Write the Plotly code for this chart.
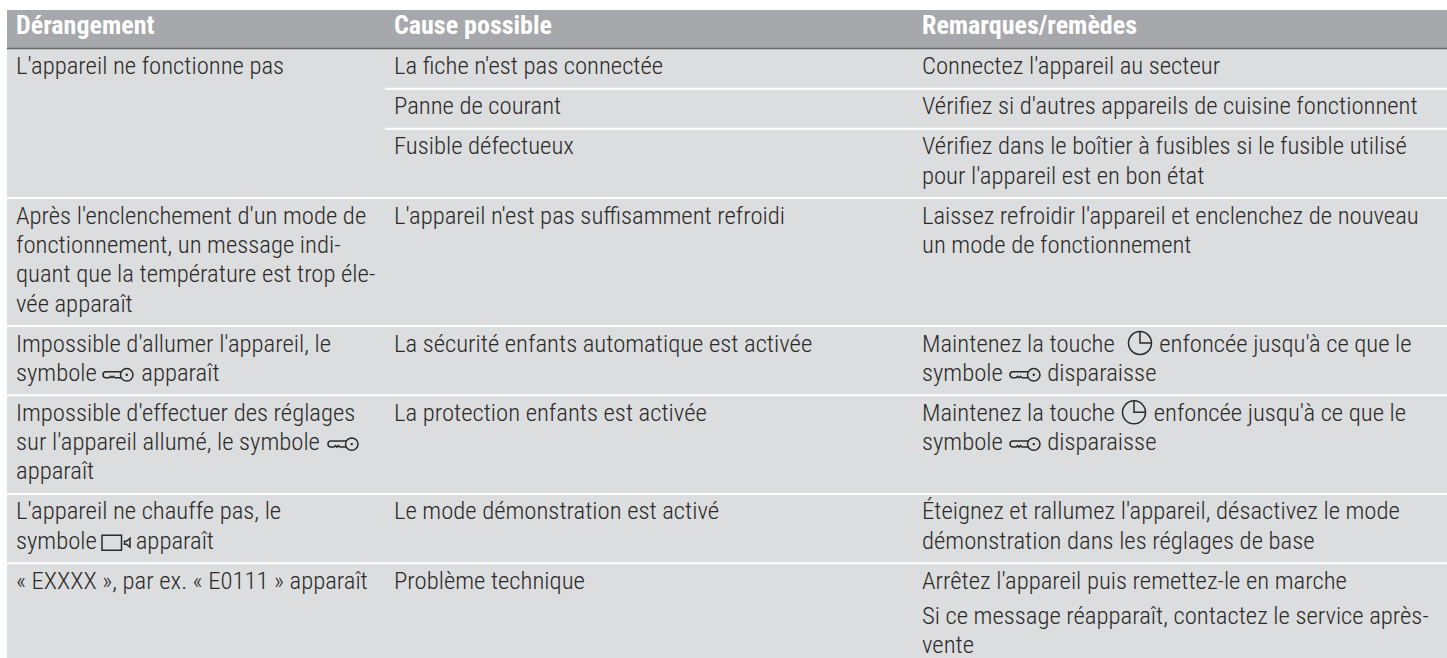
import plotly.graph_objects as go

NB = "\u00a0"
GAP = NB * 8   # room left in the line for a drawn symbol
GAP_SHORT = NB * 7

headers = ["Dérangement", "Cause possible", "Remarques/remèdes"]
# one entry per table row; "" = cell merged with the one above. "<br>" = wrapped line, "\n" = new paragraph
derangement = [
    "L'appareil ne fonctionne pas", "", "",
    "Après l'enclenchement d'un mode de<br>fonctionnement, un message indi-<br>quant que la température est trop éle-<br>vée apparaît",
    f"Impossible d'allumer l'appareil, le<br>symbole{GAP}apparaît",
    "Impossible d'effectuer des réglages<br>sur l'appareil allumé, le symbole<br>apparaît",
    f"L'appareil ne chauffe pas, le<br>symbole{GAP_SHORT}apparaît",
    "« EXXXX », par ex. « E0111 » apparaît",
]
cause = [
    "La fiche n'est pas connectée", "Panne de courant", "Fusible défectueux",
    "L'appareil n'est pas suffisamment refroidi",
    "La sécurité enfants automatique est activée",
    "La protection enfants est activée",
    "Le mode démonstration est activé",
    "Problème technique",
]
remarques = [
    "Connectez l'appareil au secteur",
    "Vérifiez si d'autres appareils de cuisine fonctionnent",
    "Vérifiez dans le boîtier à fusibles si le fusible utilisé<br>pour l'appareil est en bon état",
    "Laissez refroidir l'appareil et enclenchez de nouveau<br>un mode de fonctionnement",
    f"Maintenez la touche{GAP}enfoncée jusqu'à ce que le<br>symbole{GAP}disparaisse",
    f"Maintenez la touche{GAP_SHORT}enfoncée jusqu'à ce que le<br>symbole{GAP}disparaisse",
    "Éteignez et rallumez l'appareil, désactivez le mode<br>démonstration dans les réglages de base",
    "Arrêtez l'appareil puis remettez-le en marche\nSi ce message réapparaît, contactez le service après-<br>vente",
]
columns = [derangement, cause, remarques]

# layout constants
W, H = 1447, 658
FONT = "Roboto Condensed"
FS, HFS = 24.7, 26
LEFT = 7
COL_X = [7, 385, 913]
TEXT_PAD = 9
HEAD_TOP, HEAD_BOTTOM, BODY_TOP = 10, 48, 48.8
HEAD_BASELINE = 34.3
PITCH, PARA, ROW_BASE, BASELINE = 29.3, 35, 40, 25.5
FILL, HEAD, INK, RULE = "#dcddde", "#a6a8ab", "#2b2a29", "#66676a"
# symbols: (row, line in the cell, left x)
KEY_ICONS = [(4, 1, 103), (5, 1, 328), (4, 1, 1010), (5, 1, 1010)]
CLOCK_ICONS = [(4, 0, 1140), (5, 0, 1134)]
DEMO_ICON = (6, 1, 102)


def cell_lines(cell):
    """(text, y offset of baseline) for each line of a cell."""
    out, y = [], BASELINE
    for p, para in enumerate(cell.split("\n")):
        if p:
            y += PARA
        for l, line in enumerate(para.split("<br>")):
            if l:
                y += PITCH
            out.append((line, y))
    return out


def row_height(i):
    n = max(len(c[i].split("<br>")) for c in columns)
    return ROW_BASE + PITCH * (n - 1)


xs, ys, txt = [], [], []
tops = [BODY_TOP]
for i in range(len(derangement) - 1):
    tops.append(tops[-1] + row_height(i))
for c, col in enumerate(columns):
    for i, cell in enumerate(col):
        for line, off in cell_lines(cell):
            if line:
                xs.append(COL_X[c] + TEXT_PAD)
                ys.append(tops[i] + off - 0.25 * FS)
                txt.append(line)

fig = go.Figure()
fig.add_trace(go.Scatter(x=xs, y=ys, text=txt, mode="text", textposition="middle right",
                         textfont=dict(family=FONT, size=FS, color=INK, weight=300),
                         hoverinfo="skip", cliponaxis=False, showlegend=False))
fig.add_trace(go.Scatter(x=[cx + TEXT_PAD for cx in COL_X],
                         y=[HEAD_BASELINE - 0.25 * HFS] * 3,
                         text=headers, mode="text", textposition="middle right",
                         textfont=dict(family=FONT, size=HFS, color="white", weight=700),
                         hoverinfo="skip", showlegend=False))

fig.add_shape(type="rect", x0=LEFT, x1=W, y0=HEAD_TOP, y1=HEAD_BOTTOM, fillcolor=HEAD, line_width=0, layer="below")
fig.add_shape(type="rect", x0=LEFT, x1=W, y0=BODY_TOP, y1=H, fillcolor=FILL, line_width=0, layer="below")
fig.add_shape(type="line", x0=LEFT, x1=W, y0=HEAD_BOTTOM + .5, y1=HEAD_BOTTOM + .5, line=dict(color=RULE, width=1.5), layer="below")
for i in range(1, len(tops)):
    x0 = LEFT if derangement[i] else COL_X[1]
    fig.add_shape(type="line", x0=x0, x1=W, y0=tops[i], y1=tops[i], line=dict(color="white", width=2), layer="below")


def baseline(row, line):
    return tops[row] + BASELINE + PITCH * line


ICON = dict(color=INK, width=1.5)
for row, line, x in KEY_ICONS:
    y = baseline(row, line) - 6
    fig.add_shape(type="circle", x0=x + 17.5, x1=x + 30, y0=y - 6.2, y1=y + 6.2, line=ICON)
    fig.add_shape(type="circle", x0=x + 22.5, x1=x + 25, y0=y - 1.2, y1=y + 1.2, fillcolor=INK, line_width=0)
    fig.add_shape(type="path", line=ICON,
                  path=f"M{x+18},{y-3} L{x+3},{y-3} Q{x},{y-3} {x},{y} Q{x},{y+3} {x+3},{y+3} "
                       f"L{x+6},{y+3} L{x+7.5},{y+1.5} L{x+9},{y+3} L{x+10.5},{y+1.5} L{x+12},{y+3} L{x+18},{y+3}")
for row, line, x in CLOCK_ICONS:
    y = baseline(row, line) - 8.5
    fig.add_shape(type="circle", x0=x - 11.5, x1=x + 11.5, y0=y - 11.5, y1=y + 11.5, line=dict(color=INK, width=1.5))
    fig.add_shape(type="path", path=f"M{x},{y-11.5} L{x},{y} L{x+11.5},{y}", line=dict(color=INK, width=1.5))
row, line, x = DEMO_ICON
y = baseline(row, line) - 6
fig.add_shape(type="rect", x0=x, x1=x + 19.5, y0=y - 7.5, y1=y + 7.5, line=ICON)
fig.add_shape(type="path", path=f"M{x+28},{y-4.5} L{x+24.5},{y-1.5} L{x+22.5},{y-1.5} L{x+22.5},{y+1.5} L{x+24.5},{y+1.5} L{x+28},{y+4.5} Z", line=ICON)

fig.update_layout(width=W, height=H, margin=dict(l=0, r=0, t=0, b=0), paper_bgcolor="white", plot_bgcolor="white",
                  xaxis=dict(range=[0, W], visible=False, fixedrange=True),
                  yaxis=dict(range=[H, 0], visible=False, fixedrange=True))
fig.write_html("out.html", post_script="document.body.style.margin='0';", config=dict(displayModeBar=False))
